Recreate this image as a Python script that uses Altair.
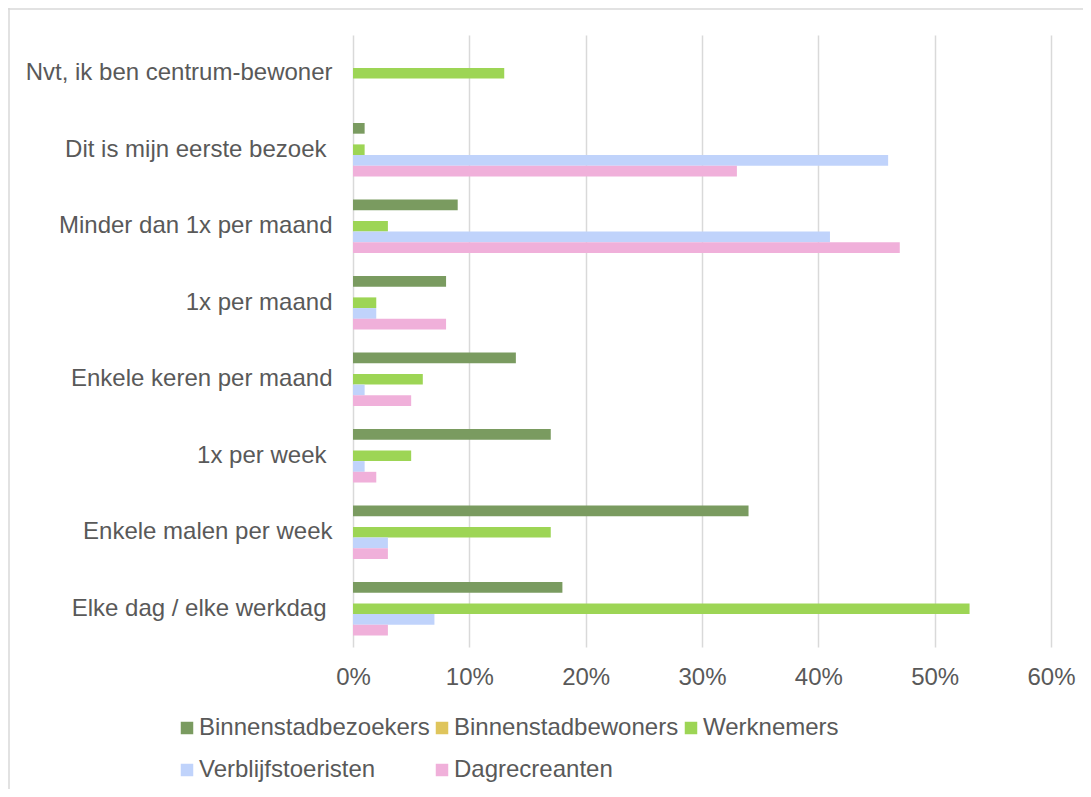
import altair as alt
import pandas as pd

categories = [
    "Nvt, ik ben centrum-bewoner",
    "Dit is mijn eerste bezoek",
    "Minder dan 1x per maand",
    "1x per maand",
    "Enkele keren per maand",
    "1x per week",
    "Enkele malen per week",
    "Elke dag / elke werkdag",
]
# labels that carry a trailing space in the original (right edge sits a bit further left)
trailing_space = ["Dit is mijn eerste bezoek", "1x per week", "Elke dag / elke werkdag"]

series = ["Binnenstadbezoekers", "Binnenstadbewoners", "Werknemers",
          "Verblijfstoeristen", "Dagrecreanten"]
colors = ["#7a9b60", "#dfc55c", "#9dd555", "#c0d3fb", "#f0b0da"]

bezoekers = [0, 1, 9, 8, 14, 17, 34, 18]
bewoners = [0, 0, 0, 0, 0, 0, 0, 0]
werknemers = [13, 1, 3, 2, 6, 5, 17, 53]
toeristen = [0, 46, 41, 2, 1, 1, 3, 7]
dagrecreanten = [0, 33, 47, 8, 5, 2, 3, 3]
x_ticks = [0, 10, 20, 30, 40, 50, 60]

rows = []
for s, vals in zip(series, [bezoekers, bewoners, werknemers, toeristen, dagrecreanten]):
    for c, v in zip(categories, vals):
        rows.append({"cat": c, "series": s, "value": v})
df = pd.DataFrame(rows)

W, H = 698, 612
PAD_L, PAD_T, PAD_R, PAD_B = 345, 27, 32, 142
FONT = "Liberation Sans"
TXT = "#595959"
FS = 24

test_expr = "indexof(" + str(trailing_space) + ", datum.value) >= 0"

bars = alt.Chart(df).mark_bar().encode(
    x=alt.X("value:Q",
            scale=alt.Scale(domain=[0, 60], nice=False),
            axis=alt.Axis(values=x_ticks, labelExpr="datum.value + '%'",
                          title=None, domain=False, ticks=False, grid=True,
                          gridColor="#d9d9d9", gridWidth=1.5, labelFlush=False,
                          labelFont=FONT, labelFontSize=FS, labelColor=TXT,
                          labelPadding=18)),
    y=alt.Y("cat:N", sort=categories,
            scale=alt.Scale(paddingInner=0.3, paddingOuter=0.15),
            axis=alt.Axis(title=None, domain=False, ticks=False, grid=False,
                          labelFont=FONT, labelFontSize=FS, labelColor=TXT,
                          labelPadding={"condition": {"test": test_expr, "value": 27},
                                        "value": 21},
                          labelLimit=500)),
    yOffset=alt.YOffset("series:N", sort=series,
                        scale=alt.Scale(paddingInner=0, paddingOuter=0)),
    color=alt.Color("series:N", sort=series,
                    scale=alt.Scale(domain=series, range=colors),
                    legend=alt.Legend(title=None, orient="none",
                                      legendX=-178, legendY=681,
                                      direction="horizontal", columns=3,
                                      symbolType="square", symbolSize=156,
                                      symbolStrokeWidth=0,
                                      labelFont=FONT, labelFontSize=FS,
                                      labelColor=TXT, labelOffset=0,
                                      labelLimit=500, columnPadding=0,
                                      rowPadding=18, padding=0)),
)

frame_data = alt.Data(values=[{"k": 1}])
left_line = alt.Chart(frame_data).mark_rule(color="#d9d9d9", strokeWidth=1.5).encode(
    x=alt.value(-PAD_L + 1), y=alt.value(-PAD_T), y2=alt.value(H + PAD_B)
)
top_line = alt.Chart(frame_data).mark_rule(color="#d9d9d9", strokeWidth=1.5).encode(
    x=alt.value(-PAD_L), x2=alt.value(W + PAD_R), y=alt.value(-PAD_T + 1)
)

chart = alt.layer(left_line, top_line, bars).properties(
    width=W, height=H,
    padding={"left": PAD_L, "top": PAD_T, "right": PAD_R, "bottom": PAD_B},
    autosize=alt.AutoSizeParams(type="none"),
    background="white",
).configure_view(stroke=None)

chart.save("out.html", embed_options={"renderer": "svg", "actions": False})
